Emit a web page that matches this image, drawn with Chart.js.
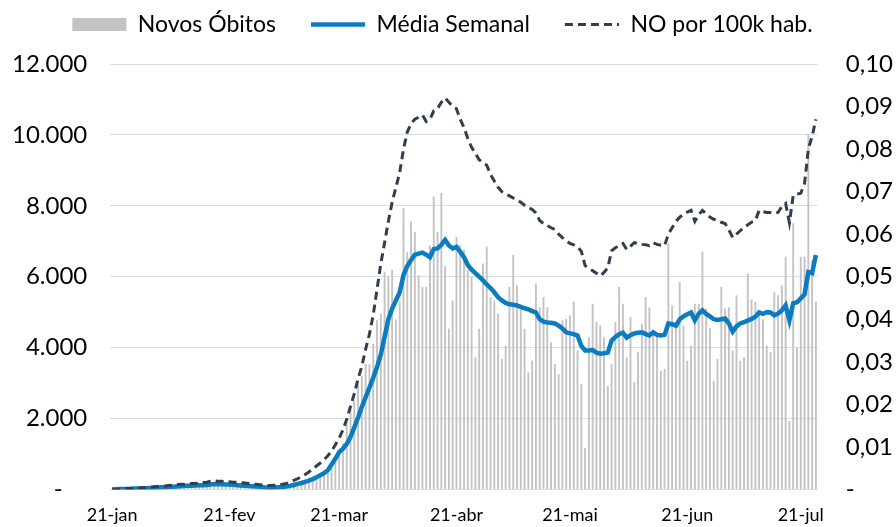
<!DOCTYPE html>
<html lang="pt">
<head>
<meta charset="utf-8">
<title>Novos Óbitos</title>
<script src="https://cdn.jsdelivr.net/npm/chart.js@4.4.1/dist/chart.umd.min.js"></script>
<style>
    html, body { margin: 0; padding: 0; background: #ffffff; }
    .chart-box { position: relative; width: 896px; height: 527px; }
</style>
</head>
<body>
<div class="chart-box"><canvas id="chart"></canvas></div>
<script>
// valores diarios a partir de 21-jan
const startDate = Date.UTC(2020, 0, 21);
const monthNames = ['jan', 'fev', 'mar', 'abr', 'mai', 'jun', 'jul', 'ago', 'set', 'out', 'nov', 'dez'];
const xTickLabels = ['21-jan', '21-fev', '21-mar', '21-abr', '21-mai', '21-jun', '21-jul'];

const novosObitos = [
    0, 3, 8, 16, 15, 24, 26, 26, 38, 43,
    46, 45, 57, 64, 65, 73, 73, 86, 89, 97,
    108, 97, 146, 121, 143, 142, 105, 98, 139, 115,
    118, 109, 97, 150, 71, 52, 29, 44, 47, 35,
    42, 31, 38, 31, 30, 41, 60, 70, 100, 180,
    200, 270, 320, 350, 370, 420, 460, 500, 780, 900,
    1000, 1300, 1900, 2270, 2500, 2980, 3200, 3540, 3530, 4100,
    4770, 4950, 6140, 6000, 6190, 4800, 5300, 7930, 6700, 7560,
    7270, 6040, 5710, 5710, 6890, 8260, 7260, 8370, 6300, 4540,
    5330, 7120, 6900, 6750, 6190, 6000, 3730, 4530, 6370, 6850,
    5430, 5330, 4960, 3680, 4060, 5710, 6610, 5760, 5140, 4530,
    3300, 3630, 5810, 5140, 5430, 5140, 4150, 3540, 3250, 4770,
    4810, 4910, 5290, 3920, 2970, 1170, 4290, 5240, 4720, 4620,
    4290, 2920, 3540, 4720, 5710, 5240, 3730, 4860, 3020, 3870,
    4670, 5430, 5140, 4390, 4340, 3350, 3400, 6940, 5190, 4670,
    5850, 4620, 3630, 4060, 5240, 5240, 6710, 5100, 4550, 3060,
    3680, 5710, 5100, 5140, 3920, 5480, 3630, 3730, 6090, 5360,
    5290, 5000, 4800, 4060, 3870, 5570, 5480, 5760, 6560, 1930,
    7510, 4010, 6560, 6560, 10020, 6470, 5290
];

const mediaSemanal = [
    5, 5, 8, 10, 14, 18, 22, 26, 30, 35,
    40, 46, 52, 58, 64, 70, 76, 82, 88, 94,
    100, 106, 110, 116, 120, 125, 140, 150, 148, 145,
    140, 135, 128, 120, 112, 105, 98, 90, 82, 75,
    62, 50, 45, 52, 60, 68, 80, 100, 125, 155,
    180, 210, 250, 290, 340, 400, 460, 540, 700, 870,
    1050, 1150, 1280, 1480, 1750, 2030, 2330, 2600, 2870, 3150,
    3450, 3800, 4300, 4800, 5100, 5330, 5560, 6050, 6300, 6470,
    6620, 6650, 6680, 6620, 6550, 6780, 6800, 6900, 7040, 6880,
    6800, 6840, 6700, 6550, 6330, 6200, 6100, 6000, 5900, 5780,
    5680, 5560, 5420, 5330, 5260, 5220, 5210, 5190, 5150, 5110,
    5080, 5030, 4990, 4800, 4730, 4710, 4700, 4680, 4620, 4540,
    4430, 4400, 4380, 4340, 4050, 3920, 3920, 3930, 3860, 3830,
    3840, 3860, 4200, 4300, 4380, 4420, 4280, 4350, 4400, 4420,
    4430, 4380, 4340, 4430, 4360, 4340, 4360, 4680, 4660, 4620,
    4800, 4880, 4940, 4990, 4770, 4950, 5050, 4950, 4880, 4800,
    4780, 4800, 4820, 4680, 4450, 4600, 4680, 4720, 4760, 4810,
    4870, 4990, 4950, 5000, 4990, 4910, 4960, 5050, 5190, 4770,
    5250, 5280, 5390, 5500, 6130, 6100, 6610
];

const noPor100k = [
    0, 0, 0.0001, 0.0001, 0.0002, 0.0002, 0.0003, 0.0003, 0.0004, 0.0004,
    0.0005, 0.0006, 0.0007, 0.0008, 0.0008, 0.0009, 0.0010, 0.0011, 0.0012, 0.0012,
    0.0013, 0.0014, 0.0014, 0.0015, 0.0016, 0.0017, 0.0019, 0.0020, 0.0019, 0.0019,
    0.0018, 0.0018, 0.0017, 0.0017, 0.0016, 0.0015, 0.0014, 0.0013, 0.0012, 0.0011,
    0.0010, 0.0009, 0.0009, 0.0010, 0.0011, 0.0012, 0.0014, 0.0017, 0.0021, 0.0025,
    0.0030, 0.0035, 0.0041, 0.0048, 0.0055, 0.0062, 0.0070, 0.0079, 0.0090, 0.0105,
    0.0120, 0.0140, 0.0165, 0.0195, 0.0225, 0.0260, 0.0290, 0.0330, 0.0365, 0.0410,
    0.0470, 0.0530, 0.0580, 0.0630, 0.0675, 0.0710, 0.0745, 0.0800, 0.0840, 0.0860,
    0.0870, 0.0875, 0.0880, 0.0865, 0.0870, 0.0890, 0.0895, 0.0910, 0.0920, 0.0910,
    0.0900, 0.0895, 0.0870, 0.0850, 0.0825, 0.0804, 0.0790, 0.0775, 0.0768, 0.0762,
    0.0740, 0.0725, 0.0710, 0.0700, 0.0695, 0.0690, 0.0685, 0.0680, 0.0675, 0.0668,
    0.0663, 0.0658, 0.0650, 0.0632, 0.0625, 0.0620, 0.0615, 0.0611, 0.0600, 0.0592,
    0.0585, 0.0578, 0.0575, 0.0570, 0.0560, 0.0526, 0.0520, 0.0514, 0.0508, 0.0502,
    0.0510, 0.0521, 0.0561, 0.0568, 0.0573, 0.0578, 0.0564, 0.0572, 0.0580, 0.0578,
    0.0576, 0.0575, 0.0573, 0.0580, 0.0576, 0.0574, 0.0573, 0.0600, 0.0615, 0.0630,
    0.0640, 0.0646, 0.0652, 0.0656, 0.0630, 0.0645, 0.0656, 0.0648, 0.0640, 0.0635,
    0.0632, 0.0628, 0.0625, 0.0610, 0.0592, 0.0600, 0.0608, 0.0616, 0.0622, 0.0628,
    0.0632, 0.0656, 0.0653, 0.0651, 0.0651, 0.0650, 0.0651, 0.0665, 0.0672, 0.0627,
    0.0691, 0.0694, 0.0696, 0.0719, 0.0800, 0.0830, 0.0870
];

const labels = novosObitos.map((v, i) => {
    const d = new Date(startDate + i * 86400000);
    return d.getUTCDate() + '-' + monthNames[d.getUTCMonth()];
});

function formatMil(value) {
    if (value === 0) return '-    ';
    return String(value).replace(/\B(?=(\d{3})+(?!\d))/g, '.');
}

function formatTaxa(value) {
    if (value === 0) return '-';
    return value.toFixed(2).replace('.', ',');
}

// legenda na ordem das series, com a linha tracejada
function legendItems(chart) {
    return chart.data.datasets.map((ds, i) => ({
        text: ds.label,
        datasetIndex: i,
        fillStyle: ds.backgroundColor,
        strokeStyle: ds.borderColor || ds.backgroundColor,
        lineWidth: ds.type === 'line' ? ds.borderWidth : 0,
        lineDash: ds.borderDash || [],
        lineCap: 'butt',
        pointStyle: ds.pointStyle,
        fontColor: '#000000',
        hidden: false
    }));
}

// espaco extra entre a legenda e o grafico, e legenda um pouco a esquerda
const legendGap = {
    id: 'legendGap',
    beforeInit(chart) {
        const fit = chart.legend.fit;
        chart.legend.fit = function () {
            fit.bind(chart.legend)();
            this.height += 18;
        };
    },
    afterLayout(chart) {
        chart.legend.left -= 10;
        chart.legend.right -= 10;
    }
};

Chart.defaults.font.family = 'Lato';
Chart.defaults.color = '#000000';

const gridColor = '#dadde2';
const hidden = 'rgba(0,0,0,0)';

const ctx = document.getElementById('chart').getContext('2d');
const chart = new Chart(ctx, {
    type: 'bar',
    data: {
        labels: labels,
        datasets: [{
            label: 'Novos Óbitos',
            data: novosObitos,
            backgroundColor: '#c3c3c3',
            borderWidth: 0,
            barPercentage: 0.5,
            categoryPercentage: 1,
            pointStyle: 'rect',
            yAxisID: 'y',
            order: 3
        }, {
            type: 'line',
            label: 'Média Semanal',
            data: mediaSemanal,
            borderColor: '#0c7cc1',
            backgroundColor: '#0c7cc1',
            borderWidth: 4.5,
            pointRadius: 0,
            pointStyle: 'line',
            tension: 0,
            yAxisID: 'y',
            order: 2
        }, {
            type: 'line',
            label: 'NO por 100k hab.',
            data: noPor100k,
            borderColor: '#323e4d',
            backgroundColor: '#323e4d',
            borderWidth: 3,
            borderDash: [8, 5],
            pointRadius: 0,
            pointStyle: 'line',
            tension: 0,
            yAxisID: 'y1',
            order: 1
        }]
    },
    options: {
        responsive: true,
        maintainAspectRatio: false,
        animation: false,
        layout: {
            padding: { top: -22, left: 9, right: 0, bottom: -14 }
        },
        plugins: {
            tooltip: { enabled: false },
            legend: {
                position: 'top',
                labels: {
                    usePointStyle: true,
                    pointStyleWidth: 54,
                    boxHeight: 13,
                    padding: 35,
                    color: '#000000',
                    font: { size: 23 },
                    generateLabels: legendItems
                }
            }
        },
        scales: {
            x: {
                grid: { display: false, drawTicks: false },
                border: { display: true, color: gridColor },
                ticks: {
                    autoSkip: false,
                    maxRotation: 0,
                    minRotation: 0,
                    padding: 15,
                    font: { size: 18 },
                    callback: function (value) {
                        const lab = this.getLabelForValue(value);
                        return xTickLabels.includes(lab) ? lab : '';
                    }
                }
            },
            y: {
                position: 'left',
                min: 0,
                max: 12000,
                grid: { color: gridColor, tickLength: 20, tickColor: hidden },
                border: { display: false },
                ticks: {
                    stepSize: 2000,
                    padding: 3,
                    autoSkip: false,
                    font: { size: 24 },
                    callback: formatMil
                }
            },
            y1: {
                position: 'right',
                min: 0,
                max: 0.1,
                grid: { drawOnChartArea: false, tickLength: 25, tickColor: hidden },
                border: { display: false },
                ticks: {
                    stepSize: 0.01,
                    padding: 3,
                    autoSkip: false,
                    font: { size: 24 },
                    callback: formatTaxa
                }
            }
        }
    },
    plugins: [legendGap]
});
</script>
</body>
</html>
